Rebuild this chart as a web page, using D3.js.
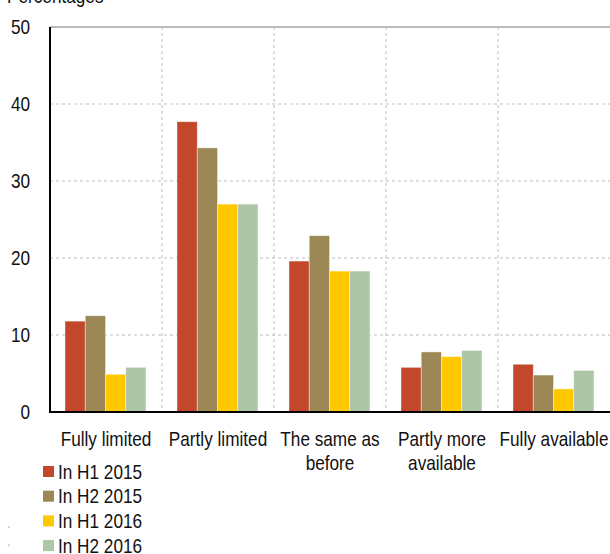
<!DOCTYPE html>
<html>
<head>
<meta charset="utf-8">
<script src="https://cdn.jsdelivr.net/npm/d3@7"></script>
<style>
  body { margin: 0; background: #fff; }
  svg { display: block; font-family: "Liberation Sans Narrow", "Arial Narrow", "Liberation Sans", Arial, sans-serif; }
</style>
</head>
<body>
<svg id="chart" width="610" height="554"></svg>
<script>
const categories = [
  ['Fully limited'],
  ['Partly limited'],
  ['The same as', 'before'],
  ['Partly more', 'available'],
  ['Fully available']
];
const seriesNames = ['In H1 2015', 'In H2 2015', 'In H1 2016', 'In H2 2016'];
const seriesColors = ['#c3472a', '#9c8756', '#ffc800', '#adc6a6'];
const h1_2015 = [11.8, 37.7, 19.6, 5.8, 6.2];
const h2_2015 = [12.5, 34.3, 22.9, 7.8, 4.8];
const h1_2016 = [4.9, 27.0, 18.3, 7.2, 3.0];
const h2_2016 = [5.8, 27.0, 18.3, 8.0, 5.4];
const yTicks = [0, 10, 20, 30, 40, 50];

const values = [h1_2015, h2_2015, h1_2016, h2_2016];

const margin = { top: 27, right: 0, bottom: 142, left: 50 },
  width = 610 - margin.left - margin.right,
  height = 554 - margin.top - margin.bottom;

const fontSize = 20;
// no narrow font installed, so squeeze the regular one horizontally
const squeeze = 0.86;

const svg = d3.select('#chart');
const g = svg.append('g')
  .attr('transform', 'translate(' + margin.left + ',' + margin.top + ')');

function narrowText(parent, x, y, anchor, lines, lineHeight) {
  const t = parent.append('text')
    .attr('transform', 'translate(' + x + ',' + y + ') scale(' + squeeze + ',1)')
    .attr('text-anchor', anchor)
    .attr('font-size', fontSize)
    .attr('fill', '#111');
  lines.forEach((line, i) => {
    t.append('tspan').attr('x', 0).attr('y', i * (lineHeight || 0)).text(line);
  });
  return t;
}

const xScale = d3.scaleBand()
  .domain(d3.range(categories.length))
  .range([0, width])
  .paddingInner(0)
  .paddingOuter(0);

const xInner = d3.scaleBand()
  .domain(d3.range(seriesNames.length))
  .range([15, xScale.bandwidth() - 16]);

const yScale = d3.scaleLinear().domain([0, 50]).range([height, 0]);

// horizontal grid
g.selectAll('.hgrid')
  .data(yTicks.filter(t => t > 0))
  .enter()
  .append('line')
  .attr('x1', 0)
  .attr('x2', width)
  .attr('y1', d => yScale(d))
  .attr('y2', d => yScale(d))
  .attr('stroke', d => d === 50 ? '#777' : '#bdbdbd')
  .attr('stroke-width', 1)
  .attr('stroke-dasharray', d => d === 50 ? null : '3,3');

// vertical grid between categories
g.selectAll('.vgrid')
  .data(d3.range(1, categories.length))
  .enter()
  .append('line')
  .attr('x1', d => xScale(d))
  .attr('x2', d => xScale(d))
  .attr('y1', 0)
  .attr('y2', height)
  .attr('stroke', '#bdbdbd')
  .attr('stroke-dasharray', '3,3');

// bars
values.forEach((series, s) => {
  g.selectAll('.bar-' + s)
    .data(series)
    .enter()
    .append('rect')
    .attr('x', (d, i) => xScale(i) + xInner(s))
    .attr('y', d => yScale(d))
    .attr('width', xInner.bandwidth())
    .attr('height', d => height - yScale(d))
    .attr('fill', seriesColors[s])
    .attr('stroke', 'rgba(255,255,255,0.5)')
    .attr('stroke-width', 0.8);
});

// axes lines
g.append('line')
  .attr('x1', 0).attr('x2', 0)
  .attr('y1', 0).attr('y2', height)
  .attr('stroke', '#000').attr('stroke-width', 2);
g.append('line')
  .attr('x1', -1).attr('x2', width)
  .attr('y1', height).attr('y2', height)
  .attr('stroke', '#000').attr('stroke-width', 2);

// y tick labels
yTicks.forEach(t => {
  narrowText(g, -20, yScale(t) + 7, 'end', [String(t)]);
});

// category labels
categories.forEach((lines, i) => {
  narrowText(g, xScale(i) + xScale.bandwidth() / 2, height + 34, 'middle', lines, 24);
});

// unit title (cut off at top)
narrowText(svg, 7, 3, 'start', ['Percentages']);

// legend
seriesNames.forEach((name, i) => {
  const y = 466 + i * 24.7;
  svg.append('rect')
    .attr('x', 43)
    .attr('y', y)
    .attr('width', 11)
    .attr('height', 11)
    .attr('fill', seriesColors[i]);
  narrowText(svg, 58, y + 12.5, 'start', [name]);
});

// stray marks at lower left
svg.selectAll('.dot')
  .data([527, 545])
  .enter()
  .append('circle')
  .attr('cx', 9)
  .attr('cy', d => d)
  .attr('r', 0.6)
  .attr('fill', '#555');
</script>
</body>
</html>
